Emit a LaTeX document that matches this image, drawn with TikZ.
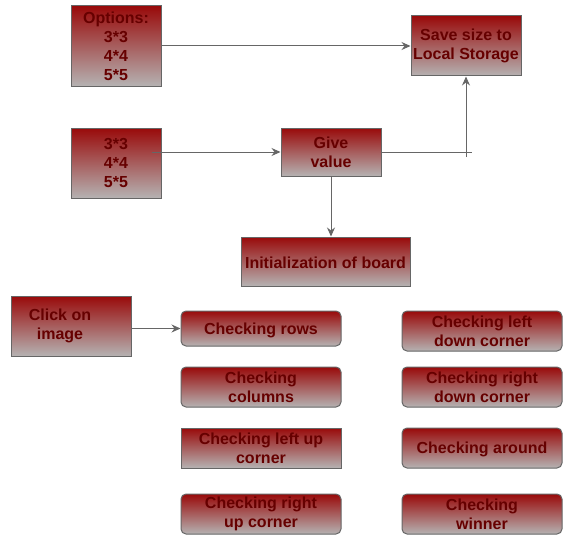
\documentclass[tikz,border=0pt]{standalone}
\usepackage{fontspec}
\setmainfont{Liberation Sans}
\usepackage{xcolor}
\usepackage{tikz}
\usetikzlibrary{positioning,arrows.meta}
\definecolor{boxred}{HTML}{990A0A}
\definecolor{boxgray}{HTML}{B5B2B2}
\definecolor{boxline}{HTML}{666666}
\definecolor{boxtext}{HTML}{660000}
\newcommand{\linestrut}{\rule{0pt}{15pt}}
\tikzstyle{caption}=[text=boxtext, font=\fontsize{16}{19}\selectfont\bfseries, align=center, inner sep=0pt,
        execute at begin node=\linestrut]
\tikzstyle{object}=[caption, rectangle, draw=boxline, line width=1pt, top color=boxred, bottom color=boxgray]
\tikzstyle{check}=[object, rounded corners=5pt, minimum width=160pt, minimum height=40pt]
\tikzstyle{link}=[draw=boxline, line width=1pt, -{Stealth[length=9pt,width=8pt,inset=3pt]}]

\begin{document}
\begin{tikzpicture}[x=1pt, y=-1pt, node distance=20pt]
      \useasboundingbox (0,0) rectangle (581,543);
      % sizes and storage
      \node (opts) [object, minimum width=90pt, minimum height=80pt] at (116,46)
      {Options:\\ 3*3\\ 4*4\\ 5*5};
      \node (save) [object, minimum width=110pt, minimum height=60pt] at (466,46)
      {Save size to\\ Local Storage};
      \node (sizes) [object, minimum width=90pt, minimum height=70pt] at (116,163)
      {3*3\\ 4*4\\ 5*5};
      \node (give) [object, minimum width=100pt, minimum height=48pt] at (331,152)
      {Give\\ value};
      \node (init) [object, minimum width=169pt, minimum height=49pt] at (325.5,261.5)
      {Initialization of board};
      % checks
      \node (click) [object, minimum width=120pt, minimum height=60pt] at (71,326) {};
      \node [caption] at ([xshift=-11pt]click.center) {Click on\\ image};
      \node (rows) [check, minimum height=35pt] at (261,328.5) {Checking rows};
      \node (columns) [check, below=of rows] {Checking\\ columns};
      \node (leftup) [check, sharp corners, below=of columns] {Checking left up\\ corner};
      \node (rightup) [check, below=25pt of leftup] {Checking right\\ up corner};
      \node (leftdown) [check, right=60pt of rows.north east, anchor=north west] {Checking left\\ down corner};
      \node (rightdown) [check, below=15pt of leftdown] {Checking right\\ down corner};
      \node (around) [check, below=of rightdown] {Checking around};
      \node (winner) [check, below=25pt of around] {Checking\\ winner};
      % connectors
      \coordinate (sizesout) at ([xshift=-10pt]sizes.east);
      \coordinate (turn) at (save.south |- give.east);
      \draw[link] (opts) -- (save);
      \draw[link] (sizesout |- give.west) -- (give.west);
      \draw[draw=boxline, line width=1pt] (give.east) -- ([xshift=6pt]turn);
      \draw[link] ([yshift=-5pt]turn) -- (save.south);
      \draw[link] (give.south) -- (give.south |- init.north);
      \draw[link] (click.east |- rows.west) -- (rows.west);
    \end{tikzpicture}
\end{document}
